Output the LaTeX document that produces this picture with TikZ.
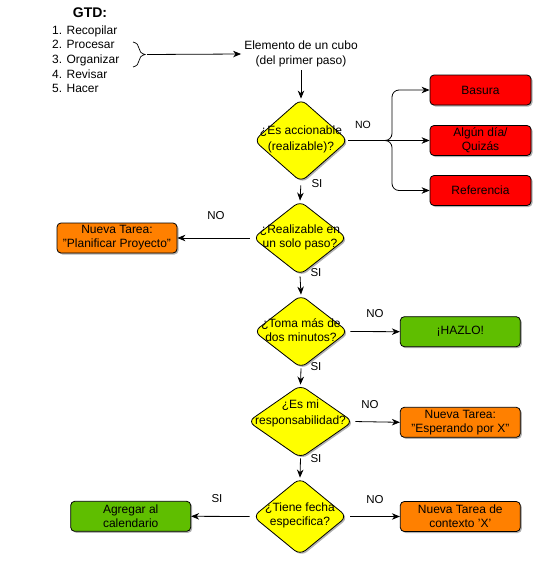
\documentclass[tikz,border=0pt]{standalone}
\usepackage{fontspec}
\setmainfont{Liberation Sans}
\usetikzlibrary{shapes.geometric,arrows.meta,shadows,decorations.pathreplacing}
\definecolor{cyel}{HTML}{FFFF00}
\definecolor{cred}{HTML}{FF0000}
\definecolor{corg}{HTML}{FF8000}
\definecolor{cgrn}{HTML}{5FBE00}
\begin{document}
\begin{tikzpicture}[x=1pt,y=-1pt,
  every node/.style={font=\fontsize{12}{14}\selectfont, text=black},
  shd/.style={drop shadow={shadow xshift=1.5pt, shadow yshift=-1.5pt, opacity=0.3, fill=black}},
  box/.style={draw=black, line width=0.8pt, rounded corners=4pt, minimum width=120pt, minimum height=30pt, align=center, inner sep=1pt, shd},
  redbox/.style={box, fill=cred, minimum width=101pt},
  orgbox/.style={box, fill=corg},
  grnbox/.style={box, fill=cgrn},
  dia/.style={diamond, draw=black, line width=0.8pt, fill=cyel, rounded corners=7pt, inner sep=0pt, shd},
  dtext/.style={align=center, inner sep=0pt},
  lab/.style={inner sep=1pt, font=\fontsize{11.5}{13}\selectfont},
  arr/.style={draw=black, line width=0.8pt, -{Stealth[length=8pt, width=6.5pt, inset=2.5pt]}},
  lst/.style={anchor=base west, inner sep=0pt}
]
\useasboundingbox (0,0) rectangle (534,565);

% GTD list
\node (gtd) [anchor=base, inner sep=0pt, font=\fontsize{14}{16}\selectfont\bfseries] at (90,17) {GTD:};
\node (l1) [lst] at (52,34) {1. Recopilar};
\node (l2) [lst] at (52,48.7) {2. Procesar};
\node (l3) [lst] at (52,63.4) {3. Organizar};
\node (l4) [lst] at (52,78.1) {4. Revisar};
\node (l5) [lst] at (52,92.8) {5. Hacer};
\coordinate (br1) at (133,42);
\coordinate (br2) at (133,67);
\coordinate (bt) at (147,54.5);
\draw[line width=0.7pt, decorate, decoration={brace, amplitude=12pt}] (br1) -- (br2);

\node (elem) [align=center, inner sep=3pt, font=\fontsize{12}{15}\selectfont] at (301,54) {Elemento de un cubo\\(del primer paso)};
\draw[arr] (bt) -- (elem.west);

% Diamonds
\node (d1) [dia, minimum width=94pt, minimum height=83pt] at (301,140.5) {};
\node (d1t) [dtext, font=\fontsize{12}{15.3}\selectfont] at (301,139.3) {¿Es accionable\\(realizable)?};
\node (d2) [dia, minimum width=94pt, minimum height=74pt] at (300,238) {};
\node (d2t) [dtext] at (300,237.4) {¿Realizable en\\un solo paso?};
\node (d3) [dia, minimum width=94pt, minimum height=73pt] at (301,331.5) {};
\node (d3t) [dtext] at (301,330.3) {¿Toma más de\\dos minutos?};
\node (d4) [dia, minimum width=105pt, minimum height=73pt] at (300.5,421.5) {};
\node (d4t) [dtext, font=\fontsize{12}{16.5}\selectfont] at (300.5,413.5) {¿Es mi\\responsabilidad?};
\node (d5) [dia, minimum width=94pt, minimum height=77pt] at (300,516.5) {};
\node (d5t) [dtext] at (300,515.2) {¿Tiene fecha\\especifica?};

% Boxes
\node (basura) [redbox] at (480.5,90) {Basura};
\node (algun) [redbox] at (480.5,140.5) {Algún día/\\Quizás};
\node (refer) [redbox] at (480.5,190.5) {Referencia};
\node (plan) [orgbox] at (117,238) {Nueva Tarea:\\"Planificar Proyecto"};
\node (hazlo) [grnbox] at (460.3,331.7) {¡HAZLO!};
\node (esper) [orgbox] at (460.3,422.3) {Nueva Tarea:\\"Esperando por X"};
\node (cal) [grnbox] at (130.7,516.3) {Agregar al\\calendario};
\node (ctx) [orgbox] at (460.3,516.5) {Nueva Tarea de\\contexto 'X'};

% Connectors
\draw[arr] (elem.south) -- (d1.north);
\coordinate (jn) at (392,140.5);
\draw[arr, rounded corners=7pt] (d1.east) -- (jn) |- (basura.west);
\draw[arr] (d1.east) -- (algun.west);
\draw[arr, rounded corners=7pt] (d1.east) -- (jn) |- (refer.west);
\draw[arr, shorten <=3pt] (d1.south) -- (d2.north);
\draw[arr, shorten <=3pt] (d2.west) -- (plan.east);
\draw[arr, shorten <=1pt] (d2.south) -- (d3.north);
\draw[arr, shorten <=2pt] (d3.east) -- (hazlo.west);
\draw[arr] (d3.south) -- (d4.north);
\draw[arr, shorten <=2pt] (d4.east) -- (esper.west);
\draw[arr] (d4.south) -- (d5.north);
\draw[arr, shorten <=3pt] (d5.west) -- (cal.east);
\draw[arr, shorten <=3pt] (d5.east) -- (ctx.west);

% Labels
\node (no1) [lab, font=\fontsize{10.5}{12}\selectfont] at (363,125) {NO};
\node (si1) [lab] at (317,184) {SI};
\node (no2) [lab] at (216,216) {NO};
\node (si2) [lab] at (316,273) {SI};
\node (no3) [lab] at (375,314) {NO};
\node (si3) [lab] at (316,367) {SI};
\node (no4) [lab] at (370,405) {NO};
\node (si4) [lab] at (316,459) {SI};
\node (si5) [lab] at (217,499) {SI};
\node (no5) [lab] at (375,500) {NO};
\end{tikzpicture}
\end{document}
